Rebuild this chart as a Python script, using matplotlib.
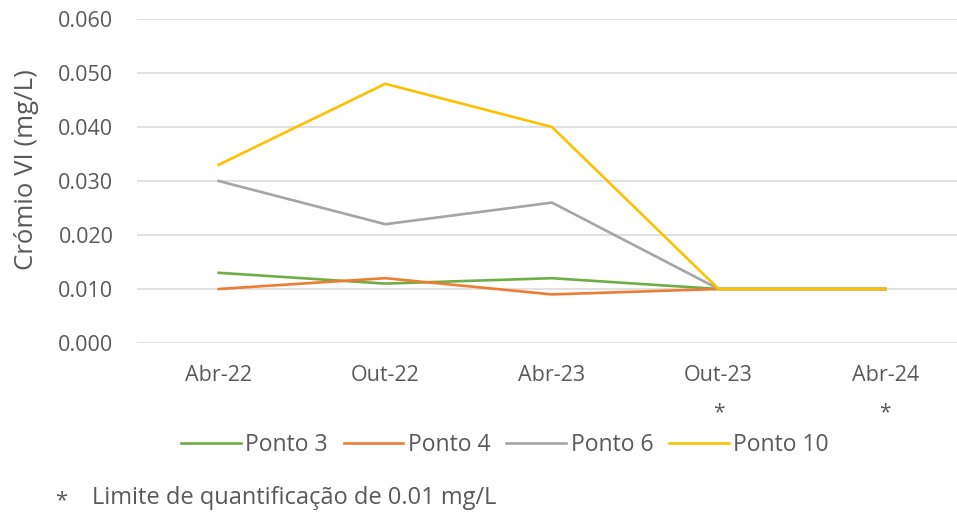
import matplotlib
matplotlib.use('Agg')
import matplotlib.pyplot as plt

# Data
categories = ['Abr-22', 'Out-22', 'Abr-23', 'Out-23', 'Abr-24']
ponto_3 = [0.013, 0.011, 0.012, 0.010, 0.010]
ponto_4 = [0.010, 0.012, 0.009, 0.010, 0.010]
ponto_6 = [0.030, 0.022, 0.026, 0.010, 0.010]
ponto_10 = [0.033, 0.048, 0.040, 0.010, 0.010]
y_ticks = [0.000, 0.010, 0.020, 0.030, 0.040, 0.050, 0.060]
asterisk_cats = ['Out-23', 'Abr-24']

TEXT = '#595959'
plt.rcParams['font.family'] = ['Open Sans', 'DejaVu Sans']

fig = plt.figure(figsize=(9.57, 5.17), dpi=100)
ax = fig.add_axes([137 / 957, 1 - 343 / 517, 1 - 137 / 957, (343 - 19) / 517])

x = list(range(len(categories)))
series = [('Ponto 3', ponto_3, '#70AD47'),
          ('Ponto 4', ponto_4, '#ED7D31'),
          ('Ponto 6', ponto_6, '#A5A5A5'),
          ('Ponto 10', ponto_10, '#FFC000')]
for name, vals, col in series:
    ax.plot(x, vals, color=col, linewidth=1.9, label=name, solid_joinstyle='round')

ax.set_xlim(-0.49, 4.43)
ax.set_ylim(0, 0.06)
ax.set_yticks(y_ticks)
ax.set_yticklabels([f'{v:.3f}' for v in y_ticks])
ax.set_xticks(x)
ax.set_xticklabels(categories)
ax.tick_params(axis='both', length=0, labelsize=15.5, labelcolor=TEXT)
ax.tick_params(axis='y', pad=17)
ax.tick_params(axis='x', pad=16)
ax.grid(axis='y', color='#D9D9D9', linewidth=1.1)
ax.set_axisbelow(True)
for s in ax.spines.values():
    s.set_visible(False)

ax.set_ylabel('Crómio VI (mg/L)', fontsize=18.5, color=TEXT)
ax.yaxis.set_label_coords(-(137 - 39) / 820, 0.535)

# asterisks under the categories at the quantification limit
for c in asterisk_cats:
    ax.annotate('*', xy=(categories.index(c), 0), xycoords=('data', 'axes fraction'),
                xytext=(0, -50), textcoords='offset points', ha='center', va='center',
                fontsize=15, color=TEXT)

fig.legend(loc='center', bbox_to_anchor=(505 / 957, 1 - 445 / 517), ncol=4,
           frameon=False, fontsize=16.5, labelcolor=TEXT, handlelength=2.6,
           handletextpad=0.2, columnspacing=0.7)

fig.text(55 / 957, 1 - 501 / 517, '*', fontsize=16, color=TEXT, ha='left', va='center')
fig.text(92 / 957, 1 - 498 / 517, 'Limite de quantificação de 0.01 mg/L', fontsize=17,
         color=TEXT, ha='left', va='center')

fig.savefig('out.png', dpi=100)
